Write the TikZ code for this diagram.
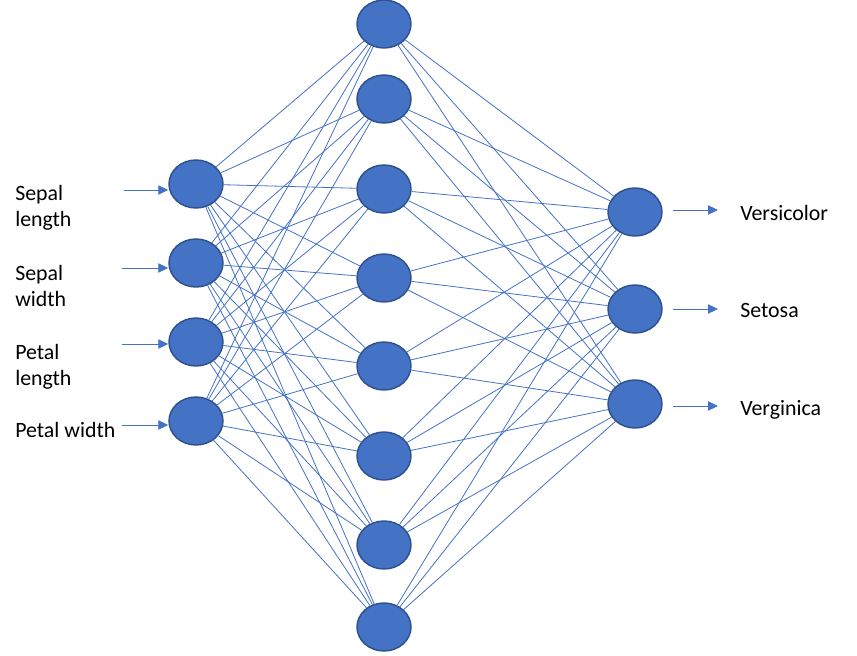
\documentclass[tikz,border=0pt]{standalone}
\usepackage{fontspec}
\setmainfont{Carlito}
\usetikzlibrary{shapes.geometric,arrows.meta}
\definecolor{nfill}{HTML}{4472C4}
\definecolor{nedge}{HTML}{2F528F}
\begin{document}
\begin{tikzpicture}[x=0.75pt,y=-0.75pt,
  neuron/.style={ellipse,draw=nedge,fill=nfill,line width=1.1pt,minimum width=40.5pt,minimum height=36pt,inner sep=0pt},
  link/.style={draw=nfill,line width=0.6pt},
  ioarrow/.style={draw=nfill,line width=0.7pt,-{Triangle[length=7.5pt,width=7pt]}},
  lbl/.style={font=\fontsize{16.4}{19.5}\selectfont,align=left,inner sep=0pt,anchor=base west}]
\useasboundingbox (0,0) rectangle (857,656);
% input layer
\node[neuron] (i1) at (196,184) {};
\node[neuron] (i2) at (196,263) {};
\node[neuron] (i3) at (196,342) {};
\node[neuron] (i4) at (196,421) {};
% hidden layer
\node[neuron] (h1) at (384,24) {};
\node[neuron] (h2) at (384,99) {};
\node[neuron] (h3) at (384,189) {};
\node[neuron] (h4) at (384,278) {};
\node[neuron] (h5) at (384,366) {};
\node[neuron] (h6) at (384,456) {};
\node[neuron] (h7) at (384,545) {};
\node[neuron] (h8) at (384,627) {};
% output layer
\node[neuron] (o1) at (635,212) {};
\node[neuron] (o2) at (635,309) {};
\node[neuron] (o3) at (635,404) {};
% connections
\foreach \i in {1,...,4}{\foreach \h in {1,...,8}{\path[link] (i\i) -- (h\h);}}
\foreach \h in {1,...,8}{\foreach \o in {1,2,3}{\path[link] (h\h) -- (o\o);}}
% input labels and arrows
\coordinate (a1) at (124,190);
\coordinate (a2) at (122,268);
\coordinate (a3) at (122,344);
\coordinate (a4) at (122,425);
\draw[ioarrow] (a1) -- (i1.west |- a1);
\draw[ioarrow] (a2) -- (i2.west |- a2);
\draw[ioarrow] (a3) -- (i3.west |- a3);
\draw[ioarrow] (a4) -- (i4.west |- a4);
\node[lbl] (t1) at (15,227) {Sepal\\length};
\node[lbl] (t2) at (15,306) {Sepal\\width};
\node[lbl] (t3) at (15,385) {Petal\\length};
\node[lbl] (t4) at (15,437) {Petal width};
% output arrows and labels
\coordinate (b1) at (718,210);
\coordinate (b2) at (718,309);
\coordinate (b3) at (718,406);
\draw[ioarrow] (o1.east |- b1) ++(10,0) -- (b1);
\draw[ioarrow] (o2.east |- b2) ++(10,0) -- (b2);
\draw[ioarrow] (o3.east |- b3) ++(10,0) -- (b3);
\node[lbl] (u1) at (740,220) {Versicolor};
\node[lbl] (u2) at (740,317) {Setosa};
\node[lbl] (u3) at (740,415) {Verginica};
\end{tikzpicture}
\end{document}
